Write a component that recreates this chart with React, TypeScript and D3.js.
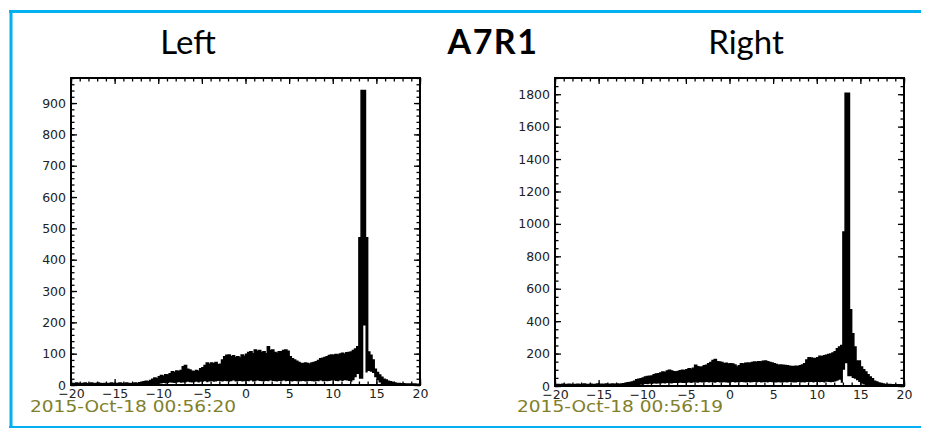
import React, { useEffect, useRef } from 'react';
import * as d3 from 'd3';

const svgWidth = 933;
const svgHeight = 429;

// histogram bins: 0.25 wide, starting at -20
const BIN_START = -20;
const BIN_W = 0.25;

const xMajor = [-20, -15, -10, -5, 0, 5, 10, 15, 20];
const leftYTicks = [0, 100, 200, 300, 400, 500, 600, 700, 800, 900];
const rightYTicks = [0, 200, 400, 600, 800, 1000, 1200, 1400, 1600, 1800];

// left detector, upper edge of the black band (counts per bin)
const leftUpper = [
  5, 4, 6, 5, 4, 5, 6, 4, 5, 6, 4, 5, 6, 5, 4, 5,
  5, 4, 6, 5, 4, 5, 6, 5, 4, 6, 5, 4, 5, 6, 5, 7,
  8, 10, 12, 10, 14, 18, 22, 20,
  26, 30, 28, 33, 32, 36, 42, 40, 45, 43, 46, 58, 62, 50, 48, 44, 42, 46, 44, 52,
  55, 62, 70, 66, 70, 68, 72, 65, 66, 80, 90, 95, 96, 90, 93, 88, 90, 86, 96, 92,
  98, 104, 106, 100, 112, 108, 110, 104, 106, 100, 122, 110, 112, 104, 101, 106, 106, 110, 112, 108,
  90, 84, 80, 76, 72, 69, 68, 70, 69, 66, 70, 72, 74, 78, 84, 85, 88, 90, 94, 96,
  95, 97, 96, 99, 101, 98, 103, 104,
  105, 110, 115, 122, 470, 940, 940, 470,
  105, 95, 80, 50, 40, 32, 25, 18,
  16, 12, 10, 8, 6, 5, 5, 4, 4, 3, 3, 3, 3, 3, 2, 2,
];

// left detector, lower edge of the black band
const leftLower = [
  0, 0, 0, 0, 0, 0, 0, 0, 0, 0, 0, 0, 0, 0, 0, 0,
  0, 0, 0, 0, 0, 0, 0, 0, 0, 0, 0, 0, 0, 0, 0, 0,
  0, 0, 0, 0, 0, 2, 3, 3,
  4, 5, 6, 5, 6, 8, 7, 6, 8, 9, 7, 8, 8, 10, 9, 8, 9, 10, 8, 10,
  10, 12, 9, 11, 12, 10, 11, 13, 12, 11, 13, 12, 10, 12, 14, 11, 12, 13, 11, 12,
  13, 12, 14, 11, 12, 14, 13, 12, 11, 13, 12, 14, 13, 12, 11, 13, 12, 14, 12, 13,
  12, 11, 13, 12, 11, 12, 13, 11, 12, 13, 12, 11, 13, 12, 14, 12, 13, 12, 13, 14,
  14, 13, 12, 14, 13, 15, 14, 13,
  10, 15, 25, 35, 20, 20, 190, 40,
  45, 42, 38, 25, 15, 8, 0, 0,
  0, 0, 0, 0, 0, 0, 0, 0, 0, 0, 0, 0, 0, 0, 0, 0,
];

// right detector
const rightUpper = [
  9, 10, 8, 11, 10, 9, 11, 10, 8, 10, 11, 9, 10, 12, 9, 10,
  11, 9, 10, 12, 10, 11, 9, 12, 10, 11, 12, 10, 12, 11, 13, 14,
  15, 20, 22, 25, 30, 38, 42, 45,
  50, 55, 58, 60, 62, 70, 74, 76, 80, 86, 84, 92, 97, 92, 88, 86, 90, 94, 97, 95,
  100, 107, 104, 110, 128, 118, 115, 117, 125, 128, 138, 145, 158, 163, 150, 148, 145, 138, 140, 136,
  138, 135, 130, 117, 125, 138, 135, 140, 142, 140, 145, 148, 146, 150, 148, 152, 154, 150, 145, 142,
  138, 132, 128, 130, 128, 126, 125, 122, 121, 120, 122, 121, 125, 130, 138, 160, 175, 172, 169, 170,
  175, 183, 180, 186, 190, 195, 198, 203,
  212, 230, 240, 250, 950, 1806, 1806, 471,
  323, 240, 154, 154, 117, 100, 86, 70,
  55, 45, 30, 25, 18, 15, 12, 10, 10, 9, 8, 8, 8, 7, 7, 6,
];

const rightLower = [
  0, 0, 0, 0, 0, 0, 0, 0, 0, 0, 0, 0, 0, 0, 0, 0,
  0, 0, 0, 0, 0, 0, 0, 0, 0, 0, 0, 0, 0, 0, 0, 0,
  0, 0, 0, 0, 3, 5, 6, 8,
  10, 12, 11, 14, 13, 15, 14, 16, 15, 17, 16, 18, 17, 16, 18, 19, 18, 20, 19, 18,
  20, 22, 19, 21, 22, 20, 23, 21, 22, 24, 21, 23, 22, 20, 24, 22, 21, 23, 22, 20,
  22, 24, 21, 23, 22, 25, 23, 21, 24, 22, 23, 25, 22, 24, 21, 23, 25, 22, 24, 23,
  22, 21, 23, 22, 21, 23, 22, 24, 23, 21, 22, 24, 22, 23, 21, 24, 23, 25, 22, 24,
  24, 23, 25, 22, 26, 24, 23, 25,
  28, 32, 38, 20, 100, 140, 60, 60,
  50, 45, 35, 25, 15, 10, 5, 0,
  0, 0, 0, 0, 0, 0, 0, 0, 0, 0, 0, 0, 0, 0, 0, 0,
];

const panels = [
  {
    title: 'Left', titleX: 188,
    left: 71, right: 420, top: 78, bottom: 385,
    yMax: 980, yTicks: leftYTicks, yMinorStep: 20,
    upper: leftUpper, lower: leftLower,
    stamp: '2015-Oct-18 00:56:20', stampX: 30,
  },
  {
    title: 'Right', titleX: 746,
    left: 555, right: 904, top: 78, bottom: 386,
    yMax: 1900, yTicks: rightYTicks, yMinorStep: 50,
    upper: rightUpper, lower: rightLower,
    stamp: '2015-Oct-18 00:56:19', stampX: 517,
  },
];

const tickFont = '"DejaVu Sans", sans-serif';
const titleFont = 'Lato, "Open Sans", sans-serif';

const styleAxis = (g, labels) => {
  g.select('.domain').remove();
  g.selectAll('.tick line').attr('stroke', '#000').attr('stroke-width', 1.3);
  if (labels) {
    g.selectAll('.tick text')
      .attr('fill', '#222')
      .style('font-family', tickFont)
      .style('font-size', '12.5px');
  } else {
    g.selectAll('.tick text').remove();
  }
};

const drawPanel = (svg, p) => {
  const x = d3.scaleLinear().domain([-20, 20]).range([p.left, p.right]);
  const y = d3.scaleLinear().domain([0, p.yMax]).range([p.bottom, p.top]);
  const g = svg.append('g');

  const pts = p.upper.map((v, i) => ({ x: BIN_START + i * BIN_W, lo: p.lower[i], hi: v }));
  const last = pts[pts.length - 1];
  pts.push({ x: 20, lo: last.lo, hi: last.hi });

  g.append('path')
    .datum(pts)
    .attr('d', d3.area().x(d => x(d.x)).y0(d => y(d.lo)).y1(d => y(d.hi)).curve(d3.curveStepAfter))
    .attr('fill', '#000');
  g.append('path')
    .datum(pts)
    .attr('d', d3.line().x(d => x(d.x)).y(d => y(d.hi)).curve(d3.curveStepAfter))
    .attr('fill', 'none')
    .attr('stroke', '#000')
    .attr('stroke-width', 1.5);

  const xMinor = d3.range(-20, 21, 1);
  const yMinor = d3.range(0, p.yMax + 1, p.yMinorStep);

  // inward ticks on all four sides
  g.append('g').attr('transform', `translate(0,${p.bottom})`)
    .call(d3.axisBottom(x).tickValues(xMinor).tickSize(-3.5)).call(a => styleAxis(a, false));
  g.append('g').attr('transform', `translate(0,${p.bottom})`)
    .call(d3.axisBottom(x).tickValues(xMajor).tickSizeInner(-6).tickSizeOuter(0).tickPadding(4))
    .call(a => styleAxis(a, true));
  g.append('g').attr('transform', `translate(0,${p.top})`)
    .call(d3.axisTop(x).tickValues(xMinor).tickSize(-3.5)).call(a => styleAxis(a, false));
  g.append('g').attr('transform', `translate(0,${p.top})`)
    .call(d3.axisTop(x).tickValues(xMajor).tickSize(-6)).call(a => styleAxis(a, false));

  g.append('g').attr('transform', `translate(${p.left},0)`)
    .call(d3.axisLeft(y).tickValues(yMinor).tickSize(-3.5)).call(a => styleAxis(a, false));
  g.append('g').attr('transform', `translate(${p.left},0)`)
    .call(d3.axisLeft(y).tickValues(p.yTicks).tickSizeInner(-6).tickSizeOuter(0).tickPadding(5).tickFormat(d3.format('d')))
    .call(a => styleAxis(a, true));
  g.append('g').attr('transform', `translate(${p.right},0)`)
    .call(d3.axisRight(y).tickValues(yMinor).tickSize(-3.5)).call(a => styleAxis(a, false));
  g.append('g').attr('transform', `translate(${p.right},0)`)
    .call(d3.axisRight(y).tickValues(p.yTicks).tickSize(-6)).call(a => styleAxis(a, false));

  g.append('rect')
    .attr('x', p.left).attr('y', p.top)
    .attr('width', p.right - p.left).attr('height', p.bottom - p.top)
    .attr('fill', 'none').attr('stroke', '#000').attr('stroke-width', 2);

  svg.append('text')
    .attr('x', p.titleX).attr('y', 54)
    .attr('text-anchor', 'middle')
    .style('font-family', titleFont)
    .style('font-size', '33px')
    .text(p.title);

  svg.append('text')
    .attr('x', p.stampX).attr('y', 412)
    .attr('fill', '#80802a')
    .attr('textLength', 206)
    .attr('lengthAdjust', 'spacingAndGlyphs')
    .style('font-family', tickFont)
    .style('font-size', '16px')
    .text(p.stamp);
};

const App = () => {
  const ref = useRef(null);

  useEffect(() => {
    const svg = d3.select(ref.current);
    svg.selectAll('*').remove();

    // slide frame
    const blue = '#00b0f0';
    svg.append('line').attr('x1', 9).attr('x2', 921).attr('y1', 11.5).attr('y2', 11.5)
      .attr('stroke', blue).attr('stroke-width', 3);
    svg.append('line').attr('x1', 11).attr('x2', 11).attr('y1', 10).attr('y2', 428)
      .attr('stroke', blue).attr('stroke-width', 3);
    svg.append('line').attr('x1', 9).attr('x2', 921).attr('y1', 427).attr('y2', 427)
      .attr('stroke', blue).attr('stroke-width', 2);

    panels.forEach(p => drawPanel(svg, p));

    svg.append('text')
      .attr('x', 493).attr('y', 54)
      .attr('text-anchor', 'middle')
      .style('font-family', titleFont)
      .style('font-size', '34px')
      .style('font-weight', 'bold')
      .style('letter-spacing', '1.5px')
      .text('A7R1');
  }, []);

  return (
    <svg
      ref={ref}
      width={svgWidth}
      height={svgHeight}
      style={{ position: 'absolute', left: 0, top: 0, background: '#fff' }}
    />
  );
};

export default App;
